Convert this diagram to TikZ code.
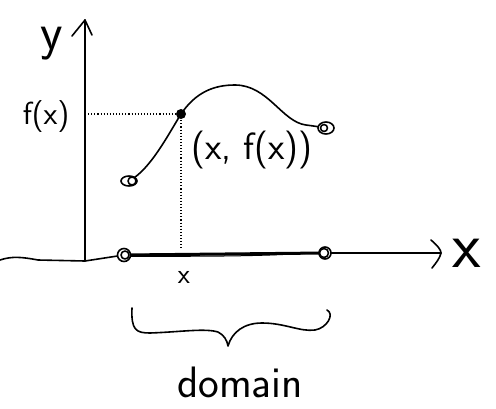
\documentclass[tikz,border=0pt]{standalone}
\usepackage{fontspec}
\begin{document}
\begin{tikzpicture}[x=1pt,y=-1pt,
  ink/.style={line width=1.6pt,line cap=round,line join=round,black},
  guide/.style={line width=1.1pt,dotted,black},
  hand/.style={font=\sffamily,inner sep=0pt,black},
  opendot/.style={ink,fill=white}]
\useasboundingbox (0,0) rectangle (496,408);
% key points
\coordinate (O) at (85,261);
\coordinate (ytop) at (85,20);
\coordinate (xstart) at (0,260);
\coordinate (xend) at (441,253);
\coordinate (P) at (181,114);
\coordinate (Px) at (181,250);
\coordinate (Py) at (85,114);
\coordinate (L) at (129,181);
\coordinate (R) at (326,128);
\coordinate (DL) at (124,255);
\coordinate (DR) at (325,253);
% axes
\draw[ink] (O) -- (ytop);
\draw[ink] (72,36) -- (ytop) -- (92,35);
\draw[ink] (xstart) .. controls (12,256) and (22,257) .. (38,260) -- (O) -- (DL) -- (DR) -- (xend);
\draw[ink] (431,240) .. controls (438,246) and (441,250) .. (xend) .. controls (440,258) and (436,263) .. (432,268);
% domain segment
\draw[line width=3pt,line cap=round,black] (DL) -- (DR);
\draw[line width=1pt,black] ([yshift=-1.5pt]DL) .. controls (200,256) and (260,257) .. ([yshift=1pt]DR);
% guides
\draw[guide] (Py) -- (P);
\draw[guide] (P) -- (Px);
% curve
\draw[ink] (L) .. controls (150,170) and (168,135) .. (P)
  .. controls (196,92) and (214,85) .. (235,85)
  .. controls (268,85) and (282,122) .. (306,125)
  .. controls (314,126) and (320,127) .. (R);
% dots
\fill[black] (P) circle (5);
\draw[opendot] (L) ellipse (8 and 5);
\draw[ink] ([xshift=3pt]L) circle (4);
\draw[opendot] (R) ellipse (8 and 6);
\draw[ink] ([xshift=-2pt]R) circle (3.5);
\draw[opendot] (DL) circle (6.5);
\draw[ink] ([xshift=1pt]DL) circle (4);
\draw[opendot] (DR) circle (6);
\draw[ink] ([xshift=-1pt]DR) circle (4.5);
% brace
\draw[ink] (132,308) .. controls (131,330) and (136,333) .. (150,333)
  .. controls (180,332) and (205,328) .. (218,332)
  .. controls (224,335) and (227,340) .. (228,346)
  .. controls (232,332) and (244,323) .. (262,323)
  .. controls (285,323) and (300,332) .. (315,330)
  .. controls (327,328) and (335,314) .. (327,310);
% labels
\node[hand,font=\sffamily\fontsize{52}{52}\selectfont] (ylab) at (52,44) {y};
\node[hand,font=\sffamily\fontsize{32}{32}\selectfont] (fxlab) at (46,117) {f(x)};
\node[hand,font=\sffamily\fontsize{38}{38}\selectfont] (Plab) at (252,150) {(x, f(x))};
\node[hand,font=\sffamily\fontsize{28}{28}\selectfont] (xlab) at (184,277) {x};
\node[hand,font=\sffamily\fontsize{66}{66}\selectfont] (Xlab) at (467,253) {x};
\node[hand,font=\sffamily\fontsize{44}{44}\selectfont] (dlab) at (240,382) {domain};
\end{tikzpicture}
\end{document}
